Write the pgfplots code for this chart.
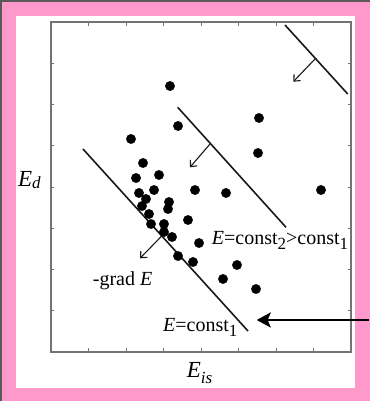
\documentclass[border=0pt]{standalone}
\usepackage{fontspec}
\setmainfont{Liberation Serif}
\usepackage{pgfplots}
\pgfplotsset{compat=1.18}
\usetikzlibrary{arrows.meta}

\definecolor{framepink}{RGB}{255,153,204}
\definecolor{axisgray}{RGB}{115,115,115}

% lowered, slightly smaller index
\newcommand{\idx}[2][5pt]{\raisebox{-#1}{\fontsize{17}{17}\selectfont #2}}
\newcommand{\annot}{\fontsize{20}{24}\selectfont}

\begin{document}
\begin{tikzpicture}
\useasboundingbox (0,0) rectangle (370pt,401pt);
% frame
\fill[framepink] (0,0) rectangle (370pt,401pt);
\fill[black!65] (0,399pt) rectangle (370pt,401pt);
\fill[black!65] (0,0) rectangle (1.5pt,401pt);
\fill[white] (16pt,13pt) rectangle (355pt,385pt);

\begin{axis}[
  at={(51pt,49pt)}, anchor=south west,
  scale only axis, width=300pt, height=330pt,
  xmin=0, xmax=8, ymin=0, ymax=8,
  xtick={1,...,7}, ytick={1,...,7},
  xticklabels={}, yticklabels={},
  tick align=inside, major tick length=3.5pt,
  axis line style={axisgray, line width=1.4pt},
  tick style={axisgray, line width=0.9pt},
  clip=false,
]
% samples
\addplot[only marks, mark=*, mark size=4.7pt, black] coordinates {
  (3.173,6.448) (3.387,5.479) (5.547,5.673) (5.520,4.824)
  (2.133,5.164) (2.453,4.582) (2.880,4.291) (2.267,4.218)
  (2.747,3.927) (3.840,3.927) (4.667,3.855) (7.200,3.927)
  (2.347,3.855) (2.533,3.709) (3.147,3.636) (2.427,3.539)
  (3.120,3.467) (2.613,3.345) (3.653,3.200) (2.667,3.103)
  (3.013,3.103) (3.013,2.909) (3.227,2.788) (3.947,2.642)
  (3.387,2.327) (3.787,2.182) (4.960,2.109) (4.587,1.770)
  (5.467,1.527)
};
% level lines E = const
\addplot[black!90, line width=1.6pt] coordinates {(0.853,4.921) (5.253,0.509)};
\addplot[black!90, line width=1.6pt] coordinates {(3.379,5.932) (6.267,3.023)};
\addplot[black!90, line width=1.6pt] coordinates {(6.240,7.927) (7.912,6.255)};
% descent directions
\draw[black!90, line width=1.1pt, -{Straight Barb[length=5pt,width=9pt]}]
  (axis cs:2.952,2.812) -- (axis cs:2.373,2.271);
\draw[black!90, line width=1.1pt, -{Straight Barb[length=5pt,width=9pt]}]
  (axis cs:4.240,5.042) -- (axis cs:3.707,4.478);
\draw[black!90, line width=1.1pt, -{Straight Barb[length=5pt,width=9pt]}]
  (axis cs:7.040,7.103) -- (axis cs:6.461,6.553);
% pointer
\draw[black, line width=2.6pt, -{Stealth[length=14pt,width=15pt,inset=3pt]}]
  (axis cs:8.49,0.776) -- (axis cs:5.485,0.776);
% annotations
\node[anchor=base west, inner sep=0] at (axis cs:4.285,2.594)
  {\annot\textit{E}=const\idx{2}>const\idx{1}};
\node[anchor=base west, inner sep=0] at (axis cs:1.112,1.624)
  {\annot -grad \textit{E}};
\node[anchor=base west, inner sep=0] at (axis cs:2.987,0.509)
  {\annot\textit{E}=const\idx{1}};
% axis titles
\node[anchor=base west, inner sep=0] at (axis cs:-0.88,4.024)
  {\fontsize{23}{26}\selectfont\textit{E\idx[2pt]{d}}};
\node[anchor=base west, inner sep=0] at (axis cs:3.619,-0.630)
  {\fontsize{23}{26}\selectfont\textit{E\idx[6pt]{is}}};
\end{axis}
\end{tikzpicture}
\end{document}
